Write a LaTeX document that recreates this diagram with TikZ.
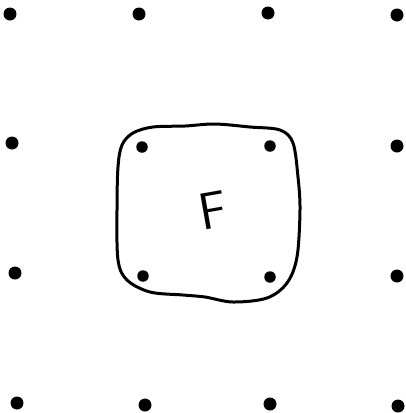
\documentclass[tikz,border=0pt]{standalone}
\usepackage{tikz}
\usetikzlibrary{positioning}

\tikzset{
  dot/.style={circle, fill=black, inner sep=0pt, minimum size=13pt},
  innerdot/.style={circle, fill=black, inner sep=0pt, minimum size=11.5pt},
  blob/.style={line width=3pt, line join=round}
}

\begin{document}
\begin{tikzpicture}[x=1pt, y=-1pt]
\useasboundingbox (0,0) rectangle (405,413);

% outer grid of dots
\foreach \x/\y [count=\i] in {10/14, 139/14, 268/13, 397/15,
                              12/143, 397/146,
                              15/273, 397/276,
                              17/403, 145/405, 270/404, 398/406}
  \node[dot] (d\i) at (\x,\y) {};

% inner dots
\node[innerdot] (tl) at (142,147) {};
\node[innerdot] (tr) at (270,146) {};
\node[innerdot] (bl) at (143,276) {};
\node[innerdot] (br) at (270,277) {};

% hand drawn loop round the inner dots
\draw[blob] plot[smooth cycle, tension=0.55] coordinates {
  (118,167) (122,145) (133,133) (153,127) (185,126) (215,124) (250,127)
  (280,130) (293,143) (298,177) (300,210) (297,257) (287,283) (267,298)
  (233,302) (205,297) (183,295) (150,292) (127,280) (118,260) (117,210)};

\node[font=\sffamily\fontsize{52}{52}\selectfont, rotate=10] (f) at (213,210) {F};
\end{tikzpicture}
\end{document}
